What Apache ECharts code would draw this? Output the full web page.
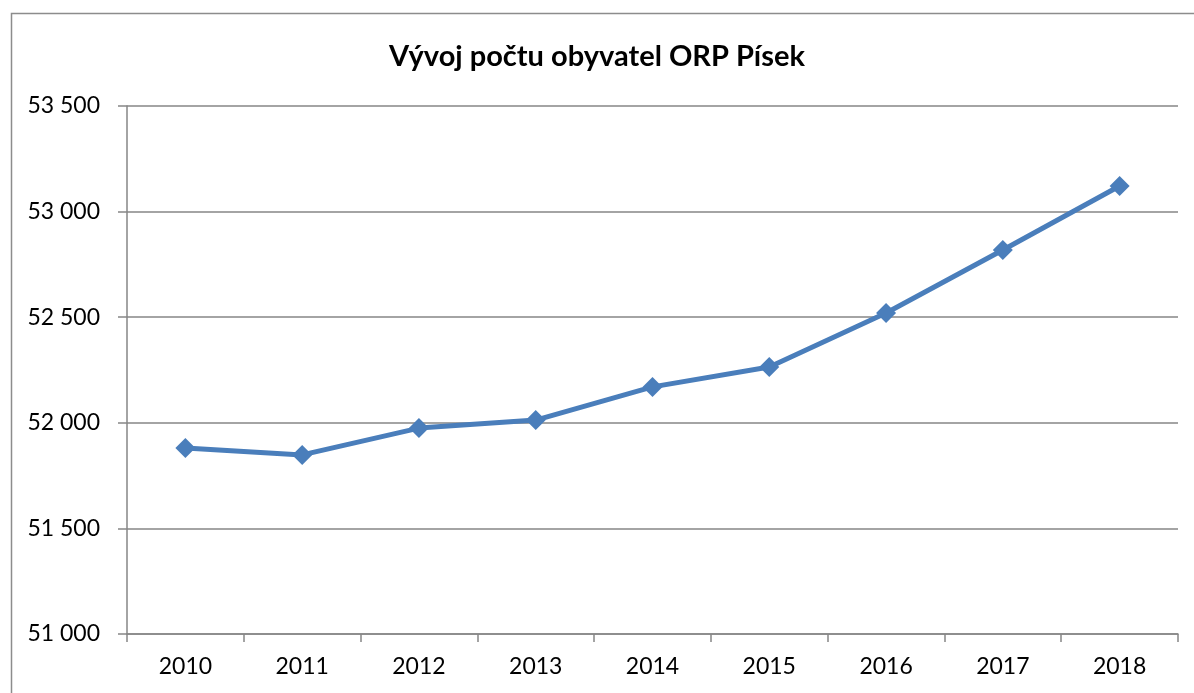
<!DOCTYPE html>
<html>
<head>
<meta charset="utf-8">
<script src="https://cdn.jsdelivr.net/npm/echarts@6/dist/echarts.min.js"></script>
<style>html,body{margin:0;padding:0;background:#fff}#c{width:1194px;height:693px}</style>
</head>
<body>
<div id="c"></div>
<script>
const years = ['2010','2011','2012','2013','2014','2015','2016','2017','2018'];
const population = [51881, 51848, 51975, 52013, 52170, 52264, 52520, 52818, 53121];
const yTicks = [51000, 51500, 52000, 52500, 53000, 53500];
const titleText = 'Vývoj počtu obyvatel ORP Písek';

const chart = echarts.init(document.getElementById('c'));
const font = 'Lato, "Open Sans", sans-serif';
chart.setOption({
  animation: false,
  backgroundColor: '#fff',
  graphic: [{
    type: 'rect', shape: {x: 11.5, y: 13.5, width: 1300, height: 800},
    style: {fill: 'none', stroke: '#8c8c8c', lineWidth: 1.5}, silent: true, z: -1
  }],
  title: {
    text: titleText, left: 'center', top: 37,
    textStyle: {fontFamily: font, fontSize: 29, fontWeight: 'bold', color: '#000'}
  },
  grid: {left: 127, right: 16, top: 106, bottom: 59, containLabel: false},
  xAxis: {
    type: 'category', data: years, boundaryGap: true,
    axisLine: {lineStyle: {color: '#868686', width: 1.5}},
    axisTick: {show: true, length: 8, inside: false, lineStyle: {color: '#868686', width: 1.5}},
    axisLabel: {fontFamily: font, fontSize: 23, color: '#000', margin: 21}
  },
  yAxis: {
    type: 'value', min: yTicks[0], max: yTicks[yTicks.length - 1], interval: 500,
    axisLine: {show: true, lineStyle: {color: '#868686', width: 1.5}},
    axisTick: {show: true, length: 9, lineStyle: {color: '#868686', width: 1.5}},
    splitLine: {lineStyle: {color: '#868686', width: 1.5}},
    axisLabel: {
      fontFamily: font, fontSize: 23, color: '#000', margin: 27,
      formatter: v => String(v).replace(/\B(?=(\d{3})+(?!\d))/g, ' ')
    }
  },
  series: [{
    type: 'line', data: population,
    symbol: 'diamond', symbolSize: 20,
    lineStyle: {color: '#4a7ebb', width: 5},
    itemStyle: {color: '#4a7ebb'}
  }]
});
</script>
</body>
</html>
